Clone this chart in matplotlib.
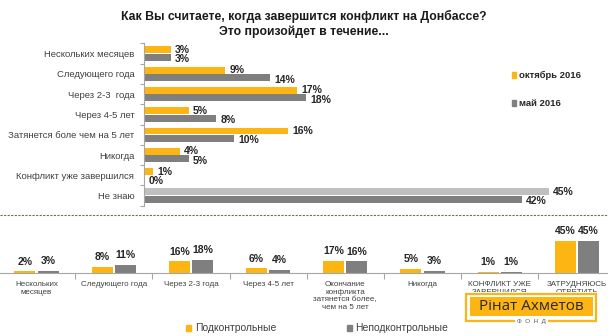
import matplotlib
matplotlib.use("Agg")
import matplotlib.pyplot as plt
from matplotlib.patches import Rectangle
from matplotlib.lines import Line2D
import numpy as np

W, H = 608, 336

# ---------------- data ----------------
title = "Как Вы считаете, когда завершится конфликт на Донбассе?\nЭто произойдет в течение..."
top_categories = ["Нескольких месяцев", "Следующего года", "Через 2-3  года", "Через 4-5 лет",
                  "Затянется боле чем на 5 лет", "Никогда", "Конфликт уже завершился", "Не знаю"]
oct_2016 = [3, 9, 17, 5, 16, 4, 1, 45]
may_2016 = [3, 14, 18, 8, 10, 5, 0, 42]
top_series_names = ["октябрь 2016", "май 2016"]

bottom_categories = ["Нескольких\nмесяцев", "Следующего года", "Через 2-3 года", "Через 4-5 лет",
                     "Окончание\nконфликта\nзатянется более,\nчем на 5 лет", "Никогда",
                     "КОНФЛИКТ УЖЕ\nЗАВЕРШИЛСЯ", "ЗАТРУДНЯЮСЬ\nОТВЕТИТЬ"]
controlled = [2, 8, 16, 6, 17, 5, 1, 45]
uncontrolled = [3, 11, 18, 4, 16, 3, 1, 45]
bottom_series_names = ["Подконтрольные", "Неподконтрольные"]

ORANGE = "#FDB513"
GRAY = "#7F7F7F"
LGRAY = "#BFBFBF"
TXT = "#404040"

SANS = ["Liberation Sans", "DejaVu Sans"]
plt.rcParams['font.family'] = SANS

fig = plt.figure(figsize=(W / 100, H / 100), dpi=100)
fig.patch.set_facecolor("white")


def fx(x):
    return x / W


def fy(y):
    return 1 - y / H


# ---------------- title ----------------
fig.text(fx(304), fy(24), title, ha="center", va="center", fontsize=8.8, fontweight="bold",
         color="#1a1a1a", linespacing=1.35)

# ---------------- top chart ----------------
row_h = 20.3
y_top = 53.5 - row_h / 2
y_bot = y_top + row_h * 8
ax = fig.add_axes([fx(144), fy(y_bot), fx(607) - fx(144), (y_bot - y_top) / H])
n = len(top_categories)
ypos = np.arange(n)
off = 0.18
bh = 0.34
orange_colors = [ORANGE] * (n - 1) + [LGRAY]
ax.barh(ypos - off, oct_2016, height=bh, color=orange_colors, zorder=2)
ax.barh(ypos + off, may_2016, height=bh, color=GRAY, zorder=2)
ax.set_xlim(0, 463 / 9.0)
ax.set_ylim(n - 0.5, -0.5)
for s in ["top", "right", "bottom"]:
    ax.spines[s].set_visible(False)
ax.spines["left"].set_color("#A6A6A6")
ax.spines["left"].set_linewidth(0.8)
ax.set_xticks([])
ax.set_yticks(ypos)
ax.set_yticklabels(top_categories, fontsize=6.8, color=TXT)
ax.tick_params(axis="y", which="major", length=0, pad=7)
ax.set_yticks(np.arange(-0.5, n, 1), minor=True)
ax.tick_params(axis="y", which="minor", length=3, color="#A6A6A6", width=0.8)
for i in range(n):
    ax.annotate(f"{oct_2016[i]}%", (oct_2016[i], i - off), xytext=(3, 0), textcoords="offset points",
                ha="left", va="center", fontsize=7.5, fontweight="bold", color="#262626")
    ax.annotate(f"{may_2016[i]}%", (may_2016[i], i + off), xytext=(3, -1.5), textcoords="offset points",
                ha="left", va="center", fontsize=7.5, fontweight="bold", color="#262626")

# top legend
fig.add_artist(Rectangle((fx(512), fy(78)), 4 / W, 6 / H, color=ORANGE))
fig.text(fx(519), fy(75), top_series_names[0], fontsize=6.8, fontweight="bold",
         color="#262626", va="center", ha="left")
fig.add_artist(Rectangle((fx(512), fy(106)), 4 / W, 6 / H, color=GRAY))
fig.text(fx(519), fy(103), top_series_names[1], fontsize=6.8, fontweight="bold",
         color="#262626", va="center", ha="left")

# dashed separator
fig.add_artist(Line2D([0, 1], [fy(215), fy(215)], color="#6E6E50", lw=0.8, linestyle=(0, (2, 1.2))))

# ---------------- bottom chart ----------------
base = 272.7
pxp = 0.71
ax2 = fig.add_axes([fx(36.5 - 38.6), fy(base), 8 * 77.2 / W, 50 * pxp / H])
m = len(bottom_categories)
xpos = np.arange(m)
boff = 0.15
bw = 0.27
ax2.bar(xpos - boff, controlled, width=bw, color=ORANGE, zorder=2)
ax2.bar(xpos + boff, uncontrolled, width=bw, color=GRAY, zorder=2)
ax2.set_xlim(-0.5, m - 0.5)
ax2.set_ylim(0, 50)
for s in ["top", "right", "left"]:
    ax2.spines[s].set_visible(False)
ax2.spines["bottom"].set_color("#A6A6A6")
ax2.spines["bottom"].set_linewidth(0.8)
ax2.set_yticks([])
ax2.set_xticks(np.arange(0.5, m - 0.5, 1))
ax2.set_xticklabels([])
ax2.tick_params(axis="x", length=4, color="#A6A6A6", width=0.8)
for i in range(m):
    ax2.annotate(f"{controlled[i]}%", (i - boff, controlled[i]), xytext=(0, 7), textcoords="offset points",
                 ha="center", va="center", fontsize=7.5, fontweight="bold", color="#262626",
                 annotation_clip=False)
    ax2.annotate(f"{uncontrolled[i]}%", (i + boff, uncontrolled[i]), xytext=(0, 7), textcoords="offset points",
                 ha="center", va="center", fontsize=7.5, fontweight="bold", color="#262626",
                 annotation_clip=False)
    ax2.annotate(bottom_categories[i], (i, 0), xytext=(0, -6), textcoords="offset points",
                 ha="center", va="top", fontsize=5.8, color=TXT, linespacing=1.15,
                 annotation_clip=False)

# bottom legend
fig.add_artist(Rectangle((fx(186), fy(331)), 5 / W, 6 / H, color=ORANGE))
fig.text(fx(195), fy(328), bottom_series_names[0], fontsize=7.5, color=TXT, va="center", ha="left")
fig.add_artist(Rectangle((fx(347), fy(331)), 5 / W, 6 / H, color=GRAY))
fig.text(fx(355), fy(328), bottom_series_names[1], fontsize=7.5, color=TXT, va="center", ha="left")

# logo
fig.add_artist(Rectangle((fx(463), fy(326)), 136 / W, 34 / H, facecolor="white", edgecolor="none", zorder=5))
fig.add_artist(Rectangle((fx(466), fy(321)), 130 / W, 27 / H, facecolor="none", edgecolor=ORANGE,
                         lw=1.6, zorder=6))
fig.add_artist(Rectangle((fx(469.5), fy(315.5)), 123 / W, 18.5 / H, facecolor=ORANGE, edgecolor="none", zorder=6))
fig.text(fx(531), fy(306.5), "Рінат Ахметов", fontsize=11, color="#2b2b2b", ha="center", va="center",
         family=["Open Sans", "DejaVu Sans"], zorder=7)
fig.text(fx(531), fy(321), "Ф  О  Н  Д", fontsize=4.5, color="#555555", ha="center", va="center",
         zorder=7, bbox=dict(facecolor="white", edgecolor="none", pad=1.5))

fig.savefig("out.png", dpi=100, facecolor="white")
